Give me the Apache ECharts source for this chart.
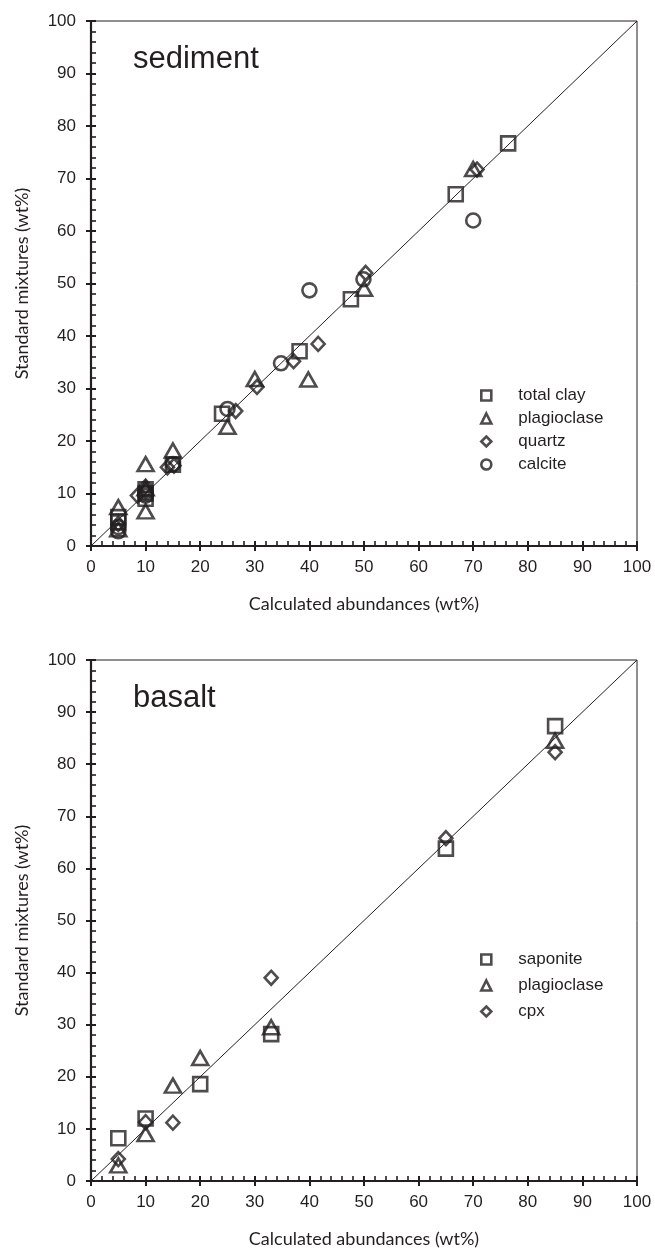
<!DOCTYPE html>
<html>
<head>
<meta charset="utf-8">
<script src="https://cdn.jsdelivr.net/npm/echarts@6/dist/echarts.min.js"></script>
<style>
  html, body { margin: 0; padding: 0; background: #ffffff; }
  #sediment { position: absolute; left: 0; top: 0; width: 655px; height: 625px; }
  #basalt { position: absolute; left: 0; top: 625px; width: 655px; height: 628px; }
</style>
</head>
<body>
<div id="sediment"></div>
<div id="basalt"></div>
<script>
// Calculated abundance (x) vs. standard mixture (y), wt%
const axisTicks = [0, 10, 20, 30, 40, 50, 60, 70, 80, 90, 100];
const oneToOne = [[0, 0], [100, 100]];

// Sediment mixtures
const sedTotalClay = [[5, 5.5], [5, 4.5], [10, 10], [10, 9], [10, 10.8], [15, 15.5], [24, 25.2], [38.2, 37.1], [47.6, 47], [66.8, 67], [76.4, 76.7]];
const sedPlagioclase = [[5, 7.4], [5, 3.2], [10, 6.6], [10, 15.6], [10, 11], [15, 18.2], [25, 22.7], [30, 31.8], [39.8, 31.7], [50, 49], [70, 71.8]];
const sedQuartz = [[5, 4.2], [8.5, 9.6], [10, 10.5], [10, 11.3], [14, 15], [15.2, 15.3], [26.5, 25.7], [30.4, 30.3], [37.1, 35.2], [41.6, 38.5], [50.3, 52], [70.7, 71.7]];
const sedCalcite = [[5, 2.8], [5, 3.6], [10, 9.6], [10, 10.2], [15, 15.6], [25, 26.1], [34.8, 34.8], [40, 48.7], [49.9, 50.8], [70, 62]];

// Basalt mixtures
const basSaponite = [[5, 8.2], [10, 12], [20, 18.6], [33, 28.2], [65, 63.8], [85, 87.3]];
const basPlagioclase = [[5, 3], [10, 9], [15, 18.3], [20, 23.6], [33, 29.5], [85, 84.5]];
const basCpx = [[5, 4.2], [10, 11.3], [15, 11.2], [33, 39], [65, 65.8], [85, 82.3]];

const INK = '#231f20';
const SANS = '"Liberation Sans", Arial, sans-serif';
const TITLE_FONT = 'Lato, "Open Sans", sans-serif';

const tickMin = axisTicks[0];
const tickMax = axisTicks[axisTicks.length - 1];
const tickStep = axisTicks[1] - axisTicks[0];

function mainAxis(pos, name, nameGap) {
  return {
    type: 'value', position: pos, min: tickMin, max: tickMax, interval: tickStep,
    axisLine: { show: true, lineStyle: { color: INK, width: 2.2 } },
    axisTick: { show: true, inside: true, length: 5, lineStyle: { color: INK, width: 2 } },
    minorTick: { show: true, splitNumber: 5, length: 5, lineStyle: { color: INK, width: 1.6 } },
    splitLine: { show: false },
    axisLabel: { color: INK, fontFamily: SANS, fontSize: 17, margin: pos === 'left' ? 15 : 13 },
    name: name, nameLocation: 'middle', nameGap: nameGap,
    nameTextStyle: { color: INK, fontFamily: TITLE_FONT, fontSize: 18 }
  };
}
// outer half of the major ticks, so they cross the axis line
function outerTickAxis(pos) {
  return {
    type: 'value', position: pos, min: tickMin, max: tickMax, interval: tickStep,
    axisLine: { show: false },
    axisTick: { show: true, inside: false, length: 5, lineStyle: { color: INK, width: 2 } },
    axisLabel: { show: false }, splitLine: { show: false }
  };
}

function marker(symbol, size) {
  return {
    symbol: symbol, symbolSize: size,
    itemStyle: { color: 'rgba(0,0,0,0)', borderColor: INK, borderWidth: 2.6 }
  };
}

function scatter(name, data, style) {
  return Object.assign({ type: 'scatter', name: name, data: data, z: 3 }, style);
}

function buildOption(cfg) {
  return {
    animation: false,
    backgroundColor: '#ffffff',
    grid: {
      left: 91, right: 18, top: cfg.top, height: 525,
      show: true, borderColor: INK, borderWidth: 1, backgroundColor: 'rgba(0,0,0,0)'
    },
    xAxis: [mainAxis('bottom', 'Calculated abundances (wt%)', 49), outerTickAxis('bottom')],
    yAxis: [mainAxis('left', 'Standard mixtures (wt%)', 60), outerTickAxis('left')],
    legend: {
      orient: 'vertical', left: 475, top: cfg.legendTop, itemGap: cfg.legendGap,
      itemWidth: 10, itemHeight: 10,
      itemStyle: { borderWidth: 2.6 },
      textStyle: { color: INK, fontFamily: SANS, fontSize: 17, lineHeight: 17, padding: [0, 0, 0, 22] },
      data: cfg.series.map(s => s.name)
    },
    graphic: [{
      type: 'text', left: 133, top: cfg.labelTop,
      style: { text: cfg.label, fill: INK, font: '31px ' + SANS }
    }],
    series: [{
      type: 'line', data: oneToOne, symbol: 'none', silent: true, z: 2,
      lineStyle: { color: INK, width: 1 }
    }].concat(cfg.series)
  };
}

const sq = marker('rect', 14);
const tri = marker('triangle', [16, 14]);
const dia = marker('diamond', [13, 14]);
const cir = marker('circle', 14);

const sedChart = echarts.init(document.getElementById('sediment'), null, { renderer: 'canvas' });
sedChart.setOption(buildOption({
  top: 21, legendTop: 382, legendGap: 6, labelTop: 44, label: 'sediment',
  series: [
    scatter('total clay', sedTotalClay, sq),
    scatter('plagioclase', sedPlagioclase, tri),
    scatter('quartz', sedQuartz, dia),
    scatter('calcite', sedCalcite, cir)
  ]
}));

const basChart = echarts.init(document.getElementById('basalt'), null, { renderer: 'canvas' });
basChart.setOption(buildOption({
  top: 35, legendTop: 321, legendGap: 9, labelTop: 58, label: 'basalt',
  series: [
    scatter('saponite', basSaponite, sq),
    scatter('plagioclase', basPlagioclase, tri),
    scatter('cpx', basCpx, dia)
  ]
}));
</script>
</body>
</html>
